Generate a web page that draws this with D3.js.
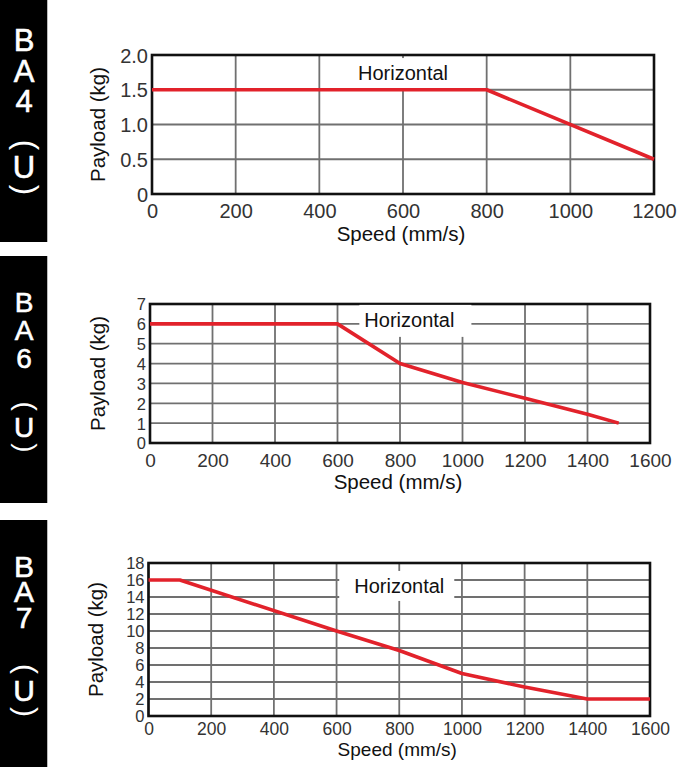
<!DOCTYPE html>
<html>
<head>
<meta charset="utf-8">
<script src="https://cdn.jsdelivr.net/npm/d3@7/dist/d3.min.js"></script>
<style>
  html, body { margin: 0; padding: 0; background: #fff; }
  svg { display: block; font-family: "Liberation Sans", Arial, Helvetica, sans-serif; }
</style>
</head>
<body>
<svg id="chart" width="678" height="767"></svg>
<script>
// ---------------- DATA ----------------
const models = ["BA4", "BA6", "BA7"];
const modelSuffix = ["(", "U", ")"];
const curveLabel = "Horizontal";
const xTitle = "Speed (mm/s)";
const yTitle = "Payload (kg)";

const ba4Speed   = [0, 800, 1200];
const ba4Payload = [1.5, 1.5, 0.5];
const ba4XTicks  = [0, 200, 400, 600, 800, 1000, 1200];
const ba4YTicks  = [0, 0.5, 1, 1.5, 2];
const ba4YTickLabels = ["0", "0.5", "1.0", "1.5", "2.0"];
const ba4LabelAt = [600, 1.74];

const ba6Speed   = [0, 600, 800, 1000, 1200, 1400, 1500];
const ba6Payload = [6, 6, 4, 3.05, 2.25, 1.45, 1];
const ba6XTicks  = [0, 200, 400, 600, 800, 1000, 1200, 1400, 1600];
const ba6YTicks  = [0, 1, 2, 3, 4, 5, 6, 7];
const ba6YTickLabels = ["0", "1", "2", "3", "4", "5", "6", "7"];
const ba6LabelAt = [830, 6.2];

const ba7Speed   = [0, 100, 600, 800, 1000, 1200, 1400, 1600];
const ba7Payload = [16, 16, 10, 7.7, 5, 3.4, 2, 2];
const ba7XTicks  = [0, 200, 400, 600, 800, 1000, 1200, 1400, 1600];
const ba7YTicks  = [0, 2, 4, 6, 8, 10, 12, 14, 16, 18];
const ba7YTickLabels = ["0", "2", "4", "6", "8", "10", "12", "14", "16", "18"];
const ba7LabelAt = [800, 15.3];

// ---------------- LAYOUT (positions / styles) ----------------
// letterY: centres of the first and third letters; suffixY: centres of "(", "U", ")"
const layouts = [
  { left: 152, right: 654, top: 55, bottom: 194, xMax: 1200, yMax: 2,
    xTickFont: 20, yTickFont: 20, xTickDy: 24, titleDy: 47, titleFont: 20.5, yTitleX: 105,
    panel: [0, 242], letterFont: 31, letterY: [40, 100.5], suffixY: [144, 165, 187],
    box: [5, 6, 8, 6] },
  { left: 150, right: 650, top: 304, bottom: 443, xMax: 1600, yMax: 7,
    xTickFont: 19, yTickFont: 16.5, xTickDy: 24, titleDy: 46, titleFont: 20.5, yTitleX: 105,
    panel: [256, 503], letterFont: 28, letterY: [302, 359], suffixY: [407, 428.5, 448.5],
    box: [5, 6, 17, 8] },
  { left: 148.5, right: 650, top: 563, bottom: 716, xMax: 1600, yMax: 18,
    xTickFont: 17.5, yTickFont: 16.5, xTickDy: 19, titleDy: 40, titleFont: 19, yTitleX: 103,
    panel: [520, 767], letterFont: 30, letterY: [566, 618.5], suffixY: [671, 690.5, 713.5],
    box: [15, 6, 10, 6] }
];

const series = [
  { speed: ba4Speed, payload: ba4Payload, xTicks: ba4XTicks, yTicks: ba4YTicks, yLabels: ba4YTickLabels, labelAt: ba4LabelAt },
  { speed: ba6Speed, payload: ba6Payload, xTicks: ba6XTicks, yTicks: ba6YTicks, yLabels: ba6YTickLabels, labelAt: ba6LabelAt },
  { speed: ba7Speed, payload: ba7Payload, xTicks: ba7XTicks, yTicks: ba7YTicks, yLabels: ba7YTickLabels, labelAt: ba7LabelAt }
];

const RED = "#e2222b", GRID = "#707070", TICK = "#333", TITLE = "#111";
// font metrics of Liberation Sans (em units)
const ASC = 0.905, DESC = 0.212, CAP = 0.716, PAREN_W = 0.333;

const svg = d3.select("#chart");

series.forEach((s, i) => {
  const L = layouts[i];
  const g = svg.append("g");

  // Black side panel with model name written vertically
  g.append("rect").attr("x", 0).attr("y", L.panel[0]).attr("width", 47)
    .attr("height", L.panel[1] - L.panel[0]).attr("fill", "#000");
  g.append("line").attr("x1", 47.5).attr("x2", 47.5).attr("y1", L.panel[0]).attr("y2", L.panel[1])
    .attr("stroke", "#bbb").attr("stroke-width", 1);

  const fs = L.letterFont;
  const adv = (ASC + DESC) * fs;            // vertical advance of an upright glyph
  const capOff = (ASC - CAP / 2) * fs;      // cap centre below top of glyph cell
  const pitch = (L.letterY[1] - L.letterY[0]) / 2;
  const ls = pitch - adv;
  const y0 = L.letterY[0] - capOff;
  const vt = g.append("text").attr("x", 24).attr("y", y0)
    .attr("writing-mode", "vertical-rl").style("text-orientation", "upright")
    .attr("font-size", fs).attr("fill", "#fff").attr("stroke", "#fff").attr("stroke-width", 0.6);
  vt.append("tspan").attr("letter-spacing", ls).text(models[i]);
  let cur = y0 + 3 * (adv + ls);
  const p1Top = L.suffixY[0] - 0.177 * fs;
  vt.append("tspan").attr("dy", p1Top - cur).attr("dx", 2.8)
    .style("text-orientation", "sideways").attr("stroke-width", 0).text(modelSuffix[0]);
  cur = p1Top + PAREN_W * fs;
  const uTop = Math.max(cur, L.suffixY[1] - capOff);
  vt.append("tspan").attr("dy", uTop - cur).attr("dx", -2.8).text(modelSuffix[1]);
  cur = uTop + adv;
  const p2Top = Math.max(cur, L.suffixY[2] - 0.155 * fs);
  vt.append("tspan").attr("dy", p2Top - cur).attr("dx", 2.8)
    .style("text-orientation", "sideways").attr("stroke-width", 0).text(modelSuffix[2]);

  // Scales
  const x = d3.scaleLinear().domain([0, L.xMax]).range([L.left, L.right]);
  const y = d3.scaleLinear().domain([0, L.yMax]).range([L.bottom, L.top]);

  // Grid
  g.append("g").selectAll("line").data(s.xTicks).join("line")
    .attr("x1", d => x(d)).attr("x2", d => x(d)).attr("y1", L.top).attr("y2", L.bottom)
    .attr("stroke", GRID).attr("stroke-width", 1.8);
  g.append("g").selectAll("line").data(s.yTicks).join("line")
    .attr("x1", L.left).attr("x2", L.right).attr("y1", d => y(d)).attr("y2", d => y(d))
    .attr("stroke", GRID).attr("stroke-width", 1.8);

  // Frame
  g.append("rect").attr("x", L.left).attr("y", L.top)
    .attr("width", L.right - L.left).attr("height", L.bottom - L.top)
    .attr("fill", "none").attr("stroke", "#111").attr("stroke-width", 2.6);

  // Curve label with white box
  const lbl = g.append("text").attr("x", x(s.labelAt[0])).attr("y", y(s.labelAt[1]))
    .attr("text-anchor", "middle").attr("dominant-baseline", "central")
    .attr("font-size", 20).attr("fill", "#111").text(curveLabel);
  const bb = lbl.node().getBBox();
  g.insert("rect", () => lbl.node())
    .attr("x", bb.x - L.box[0]).attr("y", bb.y - L.box[1] + 2)
    .attr("width", bb.width + L.box[0] + L.box[2]).attr("height", bb.height + L.box[1] + L.box[3] - 4)
    .attr("fill", "#fff");

  // Curve
  const pts = s.speed.map((v, k) => [v, s.payload[k]]);
  g.append("path").datum(pts)
    .attr("d", d3.line().x(d => x(d[0])).y(d => y(d[1])))
    .attr("fill", "none").attr("stroke", RED).attr("stroke-width", 3.6)
    .attr("stroke-linejoin", "round");

  // X axis tick labels
  const xAxis = d3.axisBottom(x).tickValues(s.xTicks).tickSize(0).tickFormat(d3.format("d"));
  const xg = g.append("g").attr("transform", `translate(0,${L.bottom})`).call(xAxis);
  xg.select(".domain").remove();
  xg.selectAll("text").attr("y", L.xTickDy).attr("dy", null)
    .attr("font-size", L.xTickFont).attr("fill", TICK).attr("font-family", null);

  // Y axis tick labels
  const yAxis = d3.axisLeft(y).tickValues(s.yTicks).tickSize(0)
    .tickFormat((d, k) => s.yLabels[k]);
  const yg = g.append("g").attr("transform", `translate(${L.left},0)`).call(yAxis);
  yg.select(".domain").remove();
  yg.selectAll("text").attr("x", -4).attr("dy", "0.36em")
    .attr("font-size", L.yTickFont).attr("fill", TICK).attr("font-family", null);

  // Titles
  g.append("text").attr("x", (L.left + L.right) / 2 - 2).attr("y", L.bottom + L.titleDy)
    .attr("text-anchor", "middle").attr("font-size", L.titleFont).attr("fill", TITLE).text(xTitle);
  g.append("text").attr("transform", `translate(${L.yTitleX},${(L.top + L.bottom) / 2}) rotate(-90)`)
    .attr("text-anchor", "middle").attr("font-size", 20.5).attr("fill", TITLE).text(yTitle);
});
</script>
</body>
</html>
